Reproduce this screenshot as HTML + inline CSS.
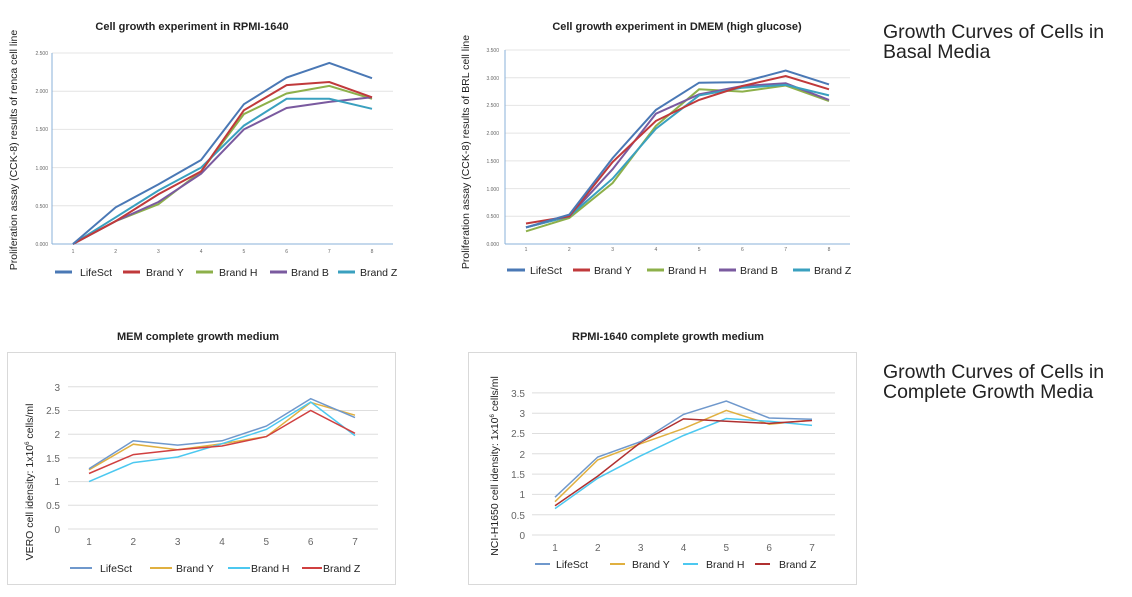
<!DOCTYPE html>
<html><head><meta charset="utf-8"><style>
body{margin:0;background:#fff;width:1132px;height:597px;overflow:hidden}
svg{display:block;font-family:"Liberation Sans",sans-serif}
</style></head><body>
<svg width="1132" height="597" viewBox="0 0 1132 597" xmlns="http://www.w3.org/2000/svg">
<!-- Chart 1 -->
<text x="192" y="30" font-size="11" font-weight="bold" text-anchor="middle" fill="#222">Cell growth experiment in RPMI-1640</text>
<g stroke="#e4e4e4" stroke-width="1">
<line x1="52" x2="393" y1="205.8" y2="205.8"/><line x1="52" x2="393" y1="167.6" y2="167.6"/><line x1="52" x2="393" y1="129.4" y2="129.4"/><line x1="52" x2="393" y1="91.2" y2="91.2"/><line x1="52" x2="393" y1="53" y2="53"/>
</g>
<line x1="52" x2="393" y1="244" y2="244" stroke="#8ab0d8"/><line x1="52" x2="52" y1="53" y2="244" stroke="#8ab0d8"/>
<g font-size="5" fill="#666" text-anchor="end">
<text x="48" y="246">0.000</text><text x="48" y="208">0.500</text><text x="48" y="170">1.000</text><text x="48" y="131">1.500</text><text x="48" y="93">2.000</text><text x="48" y="55">2.500</text></g>
<g font-size="5" fill="#666" text-anchor="middle">
<text x="73" y="253">1</text><text x="115.7" y="253">2</text><text x="158.4" y="253">3</text><text x="201.1" y="253">4</text><text x="243.9" y="253">5</text><text x="286.6" y="253">6</text><text x="329.3" y="253">7</text><text x="372" y="253">8</text></g>
<text transform="translate(17,150) rotate(-90)" font-size="10.5" text-anchor="middle" fill="#222">Proliferation assay (CCK-8) results of renca cell line</text>
<g fill="none" stroke-width="2">
<polyline stroke="#8db04a" points="73,244 115.7,221.1 158.4,204.3 201.1,171.4 243.9,114.1 286.6,93.5 329.3,85.9 372,98.8"/>
<polyline stroke="#7a5a9f" points="73,244 115.7,221.1 158.4,202 201.1,173.7 243.9,129.4 286.6,108 329.3,101.9 372,97.3"/>
<polyline stroke="#3aa0bf" points="73,244 115.7,217.3 158.4,190.5 201.1,167.6 243.9,125.6 286.6,98.8 329.3,98.8 372,108.8"/>
<polyline stroke="#c0393b" points="73,244 115.7,221.1 158.4,194.3 201.1,171.4 243.9,110.3 286.6,85.1 329.3,82 372,97.3"/>
<polyline stroke="#4a78b5" points="73,244 115.7,207.3 158.4,184.4 201.1,160 243.9,104.2 286.6,77.5 329.3,62.9 372,78.2"/>
</g>
<g stroke-width="3"><line x1="55" x2="72" y1="272" y2="272" stroke="#4a78b5"/><line x1="123" x2="140" y1="272" y2="272" stroke="#c0393b"/><line x1="196" x2="213" y1="272" y2="272" stroke="#8db04a"/><line x1="270" x2="287" y1="272" y2="272" stroke="#7a5a9f"/><line x1="338" x2="355" y1="272" y2="272" stroke="#3aa0bf"/></g>
<g font-size="10.5" fill="#222"><text x="80" y="276">LifeSct</text><text x="146" y="276">Brand Y</text><text x="219" y="276">Brand H</text><text x="291" y="276">Brand B</text><text x="360" y="276">Brand Z</text></g>

<!-- Chart 2 -->
<text x="677" y="30" font-size="11" font-weight="bold" text-anchor="middle" fill="#222">Cell growth experiment in DMEM (high glucose)</text>
<g stroke="#e4e4e4" stroke-width="1">
<line x1="505" x2="850" y1="216.3" y2="216.3"/><line x1="505" x2="850" y1="188.6" y2="188.6"/><line x1="505" x2="850" y1="160.9" y2="160.9"/><line x1="505" x2="850" y1="133.1" y2="133.1"/><line x1="505" x2="850" y1="105.4" y2="105.4"/><line x1="505" x2="850" y1="77.7" y2="77.7"/><line x1="505" x2="850" y1="50" y2="50"/>
</g>
<line x1="505" x2="850" y1="244" y2="244" stroke="#8ab0d8"/><line x1="505" x2="505" y1="50" y2="244" stroke="#8ab0d8"/>
<g font-size="5" fill="#666" text-anchor="end">
<text x="499" y="246">0.000</text><text x="499" y="218">0.500</text><text x="499" y="191">1.000</text><text x="499" y="163">1.500</text><text x="499" y="135">2.000</text><text x="499" y="107">2.500</text><text x="499" y="80">3.000</text><text x="499" y="52">3.500</text></g>
<g font-size="5" fill="#666" text-anchor="middle">
<text x="526" y="251">1</text><text x="569.3" y="251">2</text><text x="612.6" y="251">3</text><text x="655.9" y="251">4</text><text x="699.1" y="251">5</text><text x="742.4" y="251">6</text><text x="785.7" y="251">7</text><text x="829" y="251">8</text></g>
<text transform="translate(469,152) rotate(-90)" font-size="10.5" text-anchor="middle" fill="#222">Proliferation assay (CCK-8) results of BRL cell line</text>
<g fill="none" stroke-width="2">
<polyline stroke="#8db04a" points="526,231.3 569.3,218 612.6,183 655.9,125.9 699.1,89.3 742.4,91.6 785.7,85.5 829,101"/>
<polyline stroke="#7a5a9f" points="526,227.4 569.3,216.3 612.6,169.2 655.9,113.7 699.1,94.3 742.4,86 785.7,83.3 829,99.9"/>
<polyline stroke="#3aa0bf" points="526,227.4 569.3,216.3 612.6,178.6 655.9,128.7 699.1,95.4 742.4,87.7 785.7,84.9 829,95.4"/>
<polyline stroke="#c0393b" points="526,223.5 569.3,216.3 612.6,162 655.9,120.9 699.1,99.9 742.4,86 785.7,76 829,89.3"/>
<polyline stroke="#4a78b5" points="526,227.4 569.3,214.6 612.6,158.1 655.9,109.9 699.1,82.7 742.4,82.1 785.7,70.5 829,84.4"/>
</g>
<g stroke-width="3"><line x1="507" x2="525" y1="270" y2="270" stroke="#4a78b5"/><line x1="573" x2="590" y1="270" y2="270" stroke="#c0393b"/><line x1="647" x2="664" y1="270" y2="270" stroke="#8db04a"/><line x1="719" x2="736" y1="270" y2="270" stroke="#7a5a9f"/><line x1="793" x2="810" y1="270" y2="270" stroke="#3aa0bf"/></g>
<g font-size="10.5" fill="#222"><text x="530" y="274">LifeSct</text><text x="594" y="274">Brand Y</text><text x="668" y="274">Brand H</text><text x="740" y="274">Brand B</text><text x="814" y="274">Brand Z</text></g>

<!-- Chart 3 -->
<text x="198" y="340" font-size="11" font-weight="bold" text-anchor="middle" fill="#222">MEM complete growth medium</text>
<rect x="7.5" y="352.5" width="388" height="232" fill="none" stroke="#d9d9d9"/>
<g stroke="#dedede" stroke-width="1">
<line x1="68" x2="378" y1="529" y2="529"/><line x1="68" x2="378" y1="505.3" y2="505.3"/><line x1="68" x2="378" y1="481.6" y2="481.6"/><line x1="68" x2="378" y1="457.9" y2="457.9"/><line x1="68" x2="378" y1="434.2" y2="434.2"/><line x1="68" x2="378" y1="410.5" y2="410.5"/><line x1="68" x2="378" y1="386.8" y2="386.8"/></g>
<g font-size="10" fill="#666" text-anchor="end">
<text x="60" y="533">0</text><text x="60" y="509">0.5</text><text x="60" y="485">1</text><text x="60" y="462">1.5</text><text x="60" y="438">2</text><text x="60" y="414">2.5</text><text x="60" y="391">3</text></g>
<g font-size="10" fill="#666" text-anchor="middle">
<text x="89" y="545">1</text><text x="133.3" y="545">2</text><text x="177.7" y="545">3</text><text x="222" y="545">4</text><text x="266.3" y="545">5</text><text x="310.7" y="545">6</text><text x="355" y="545">7</text></g>
<text transform="translate(33,482) rotate(-90)" font-size="10.5" text-anchor="middle" fill="#222">VERO cell idensity: 1x10<tspan font-size="6" dy="-4">6</tspan><tspan dy="4"> cells/ml</tspan></text>
<g fill="none" stroke-width="1.5">
<polyline stroke="#e0b040" points="89,469.8 133.3,444.2 177.7,449.8 222,443.7 266.3,436.6 310.7,402.4 355,415.2"/>
<polyline stroke="#4cc8f0" points="89,481.6 133.3,462.6 177.7,457 222,443.7 266.3,429.5 310.7,402 355,435.6"/>
<polyline stroke="#d04040" points="89,473.5 133.3,454.6 177.7,449.8 222,446 266.3,436.6 310.7,410.5 355,433.3"/>
<polyline stroke="#6f98cc" points="89,468.8 133.3,440.8 177.7,445.1 222,440.8 266.3,426.1 310.7,398.7 355,417.6"/>
</g>
<g stroke-width="2"><line x1="70" x2="92" y1="568" y2="568" stroke="#6f98cc"/><line x1="150" x2="172" y1="568" y2="568" stroke="#e0b040"/><line x1="228" x2="250" y1="568" y2="568" stroke="#4cc8f0"/><line x1="302" x2="322" y1="568" y2="568" stroke="#d04040"/></g>
<g font-size="10.5" fill="#222"><text x="100" y="572">LifeSct</text><text x="176" y="572">Brand Y</text><text x="251" y="572">Brand H</text><text x="323" y="572">Brand Z</text></g>

<!-- Chart 4 -->
<text x="668" y="340" font-size="11" font-weight="bold" text-anchor="middle" fill="#222">RPMI-1640 complete growth medium</text>
<rect x="468.5" y="352.5" width="388" height="232" fill="none" stroke="#d9d9d9"/>
<g stroke="#dedede" stroke-width="1">
<line x1="532" x2="835" y1="535" y2="535"/><line x1="532" x2="835" y1="514.7" y2="514.7"/><line x1="532" x2="835" y1="494.4" y2="494.4"/><line x1="532" x2="835" y1="474.1" y2="474.1"/><line x1="532" x2="835" y1="453.8" y2="453.8"/><line x1="532" x2="835" y1="433.5" y2="433.5"/><line x1="532" x2="835" y1="413.2" y2="413.2"/><line x1="532" x2="835" y1="392.9" y2="392.9"/></g>
<g font-size="10" fill="#666" text-anchor="end">
<text x="525" y="539">0</text><text x="525" y="519">0.5</text><text x="525" y="498">1</text><text x="525" y="478">1.5</text><text x="525" y="458">2</text><text x="525" y="437">2.5</text><text x="525" y="417">3</text><text x="525" y="397">3.5</text></g>
<g font-size="10" fill="#666" text-anchor="middle">
<text x="555" y="551">1</text><text x="597.8" y="551">2</text><text x="640.7" y="551">3</text><text x="683.5" y="551">4</text><text x="726.3" y="551">5</text><text x="769.2" y="551">6</text><text x="812" y="551">7</text></g>
<text transform="translate(498,466) rotate(-90)" font-size="10.5" text-anchor="middle" fill="#222">NCI-H1650 cell idensity: 1x10<tspan font-size="6" dy="-4">6</tspan><tspan dy="4"> cells/ml</tspan></text>
<g fill="none" stroke-width="1.5">
<polyline stroke="#e0b040" points="555,501.7 597.8,459.9 640.7,443.7 683.5,428.6 726.3,410.4 769.2,424.2 812,420.1"/>
<polyline stroke="#4cc8f0" points="555,508.6 597.8,478.2 640.7,455.8 683.5,435.5 726.3,418.5 769.2,421.3 812,425.4"/>
<polyline stroke="#b03030" points="555,505.8 597.8,476.1 640.7,442.4 683.5,418.9 726.3,421.3 769.2,423.4 812,420.5"/>
<polyline stroke="#6f98cc" points="555,497.2 597.8,457 640.7,441.6 683.5,414.4 726.3,401 769.2,418 812,419.3"/>
</g>
<g stroke-width="2"><line x1="535" x2="550" y1="564" y2="564" stroke="#6f98cc"/><line x1="610" x2="625" y1="564" y2="564" stroke="#e0b040"/><line x1="683" x2="698" y1="564" y2="564" stroke="#4cc8f0"/><line x1="755" x2="770" y1="564" y2="564" stroke="#b03030"/></g>
<g font-size="10.5" fill="#222"><text x="556" y="568">LifeSct</text><text x="632" y="568">Brand Y</text><text x="706" y="568">Brand H</text><text x="779" y="568">Brand Z</text></g>

<!-- Side labels -->
<g font-size="19.5" fill="#222">
<text x="883" y="38">Growth Curves of Cells in</text><text x="883" y="58">Basal Media</text>
<text x="883" y="378">Growth Curves of Cells in</text><text x="883" y="398">Complete Growth Media</text>
</g>
</svg>
</body></html>
